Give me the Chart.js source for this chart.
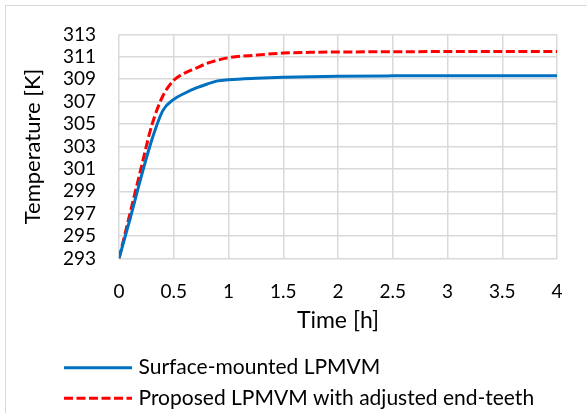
<!DOCTYPE html>
<html>
<head>
<meta charset="utf-8">
<script src="https://cdn.jsdelivr.net/npm/chart.js@4/dist/chart.umd.min.js"></script>
<style>
  html, body { margin: 0; padding: 0; background: #fff; }
  #wrap { position: relative; width: 587px; height: 413px; overflow: hidden; }
  #frame { position: absolute; left: 5px; top: 5px; width: 620px; height: 440px; border: 1px solid #d9d9d9; box-sizing: border-box; }
  canvas { position: absolute; left: 0; top: 0; }
</style>
</head>
<body>
<div id="wrap">
  <div id="frame"></div>
  <canvas id="c" width="587" height="413"></canvas>
</div>
<script>
// Time axis [h]
const timeHours = [0, 0.1, 0.2, 0.3, 0.4, 0.5, 0.6, 0.7, 0.8, 0.9, 1.0, 1.25, 1.5, 1.75, 2, 2.5, 3, 3.5, 4];
// Temperature [K] of the surface-mounted machine
const surfaceMounted = [293, 296.5, 300.2, 303.6, 306.2, 307.2, 307.75, 308.2, 308.55, 308.85, 308.95, 309.08, 309.17, 309.23, 309.27, 309.3, 309.31, 309.31, 309.31];
// Temperature [K] of the proposed machine with adjusted end-teeth
const proposedEndTeeth = [293, 297.0, 301.0, 304.9, 307.5, 308.9, 309.55, 309.97, 310.4, 310.7, 310.92, 311.15, 311.33, 311.4, 311.43, 311.45, 311.47, 311.47, 311.47];

const seriesLabels = ['Surface-mounted LPMVM', 'Proposed LPMVM with adjusted end-teeth'];
const xTitle = 'Time [h]';
const yTitle = 'Temperature [K]';

const FONT = 'Lato';
const toPoints = (xs, ys) => xs.map((x, i) => ({ x: x, y: ys[i] }));

// Two-row legend drawn under the x-axis title, one entry per dataset
const sideLegend = {
  id: 'sideLegend',
  afterDraw(chart) {
    const ctx = chart.ctx;
    const rows = [367.7, 398.3];
    chart.data.datasets.forEach((ds, i) => {
      const y = rows[i];
      ctx.save();
      ctx.strokeStyle = ds.borderColor;
      ctx.lineWidth = ds.borderWidth;
      ctx.setLineDash(ds.borderDash || []);
      ctx.lineCap = 'butt';
      ctx.beginPath();
      ctx.moveTo(64, y);
      ctx.lineTo(132, y);
      ctx.stroke();
      ctx.setLineDash([]);
      ctx.fillStyle = '#000';
      ctx.font = '21px ' + FONT;
      ctx.textBaseline = 'middle';
      ctx.textAlign = 'left';
      ctx.fillText(ds.label, 138.5, y);
      ctx.restore();
    });
  }
};

new Chart(document.getElementById('c'), {
  type: 'line',
  data: {
    datasets: [
      {
        label: seriesLabels[0],
        data: toPoints(timeHours, surfaceMounted),
        borderColor: '#0070C0',
        borderWidth: 3,
        pointRadius: 0,
        cubicInterpolationMode: 'monotone',
        fill: false
      },
      {
        label: seriesLabels[1],
        data: toPoints(timeHours, proposedEndTeeth),
        borderColor: '#FF0000',
        borderWidth: 3,
        borderDash: [9, 3.5],
        pointRadius: 0,
        cubicInterpolationMode: 'monotone',
        fill: false
      }
    ]
  },
  options: {
    responsive: false,
    animation: false,
    devicePixelRatio: 1,
    layout: { padding: { left: 0, top: 23, right: 30, bottom: 74.5 } },
    plugins: {
      legend: { display: false },
      tooltip: { enabled: false }
    },
    scales: {
      x: {
        type: 'linear',
        min: 0,
        max: 4,
        afterFit(scale) { scale.height = 80; },
        ticks: {
          stepSize: 0.5,
          padding: 22,
          autoSkip: false,
          color: '#000',
          font: { family: FONT, size: 19 },
          maxRotation: 0,
          callback: (v) => String(Math.round(v * 10) / 10)
        },
        grid: { color: '#d9d9d9', lineWidth: 1.5, drawTicks: false },
        border: { display: false },
        title: {
          display: true,
          text: xTitle,
          color: '#000',
          font: { family: FONT, size: 23 },
          padding: { top: 0, bottom: 3.7 }
        }
      },
      y: {
        min: 293,
        max: 313,
        afterFit(scale) { scale.width = 119; },
        ticks: {
          stepSize: 2,
          padding: 23,
          autoSkip: false,
          color: '#000',
          font: { family: FONT, size: 19 },
          callback: (v) => String(v)
        },
        grid: { color: '#d9d9d9', lineWidth: 1.5, drawTicks: false },
        border: { display: false },
        title: {
          display: true,
          text: yTitle,
          color: '#000',
          font: { family: FONT, size: 22 },
          padding: { top: 19.8, bottom: 0 }
        }
      }
    }
  },
  plugins: [sideLegend]
});
</script>
</body>
</html>
